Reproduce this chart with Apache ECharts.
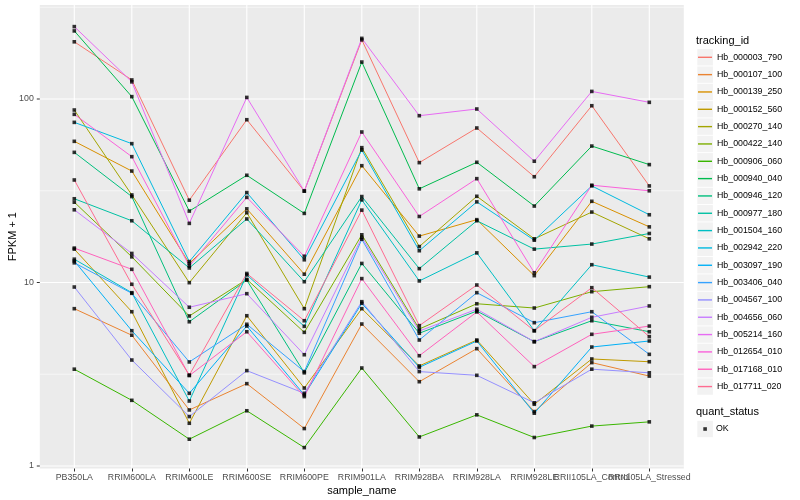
<!DOCTYPE html>
<html><head><meta charset="utf-8">
<script src="https://cdn.jsdelivr.net/npm/echarts@6/dist/echarts.min.js"></script>
<style>html,body{margin:0;padding:0;background:#fff}#c{width:800px;height:500px}</style>
</head><body><div id="c"></div>
<script>
const categories = ['PB350LA','RRIM600LA','RRIM600LE','RRIM600SE','RRIM600PE','RRIM901LA','RRIM928BA','RRIM928LA','RRIM928LE','RRII105LA_Control','RRII105LA_Stressed'];
const trackingIds = ['Hb_000003_790','Hb_000107_100','Hb_000139_250','Hb_000152_560','Hb_000270_140','Hb_000422_140','Hb_000906_060','Hb_000940_040','Hb_000946_120','Hb_000977_180','Hb_001504_160','Hb_002942_220','Hb_003097_190','Hb_003406_040','Hb_004567_100','Hb_004656_060','Hb_005214_160','Hb_012654_010','Hb_017168_010','Hb_017711_020'];
const colors = ['#F8766D','#EA8331','#D89000','#C09B00','#A3A500','#7CAE00','#39B600','#00BB4E','#00BF7D','#00C1A3','#00BFC4','#00BAE0','#00B0F6','#35A2FF','#9590FF','#C77CFF','#E76BF3','#FA62DB','#FF62BC','#FF6C91'];
const yTickValues = [1, 10, 100];
const yMinorValues = [3.1623, 31.623, 316.23];

const Hb_000003_790 = [205, 127, 28.1, 77.1, 31.5, 210, 45.0, 69.5, 37.7, 91.9, 33.6];
const Hb_000107_100 = [7.20, 5.16, 2.02, 2.81, 1.60, 5.94, 2.88, 4.36, 1.98, 3.66, 3.09];
const Hb_000139_250 = [58.8, 40.5, 12.7, 25.2, 11.1, 43.3, 17.9, 22.0, 10.9, 27.7, 20.1];
const Hb_000152_560 = [15.2, 6.93, 1.71, 6.59, 2.66, 7.20, 3.51, 4.86, 2.17, 3.83, 3.70];
const Hb_000270_140 = [87.1, 30.0, 9.98, 24.0, 7.20, 54.3, 15.7, 29.5, 17.3, 24.2, 17.3];
const Hb_000422_140 = [27.4, 13.8, 6.57, 10.4, 5.35, 18.2, 5.58, 7.66, 7.26, 8.91, 9.49];
const Hb_000906_060 = [3.37, 2.28, 1.40, 2.00, 1.26, 3.42, 1.44, 1.90, 1.43, 1.65, 1.74];
const Hb_000940_040 = [235, 103, 24.5, 38.4, 23.8, 159, 32.4, 45.2, 26.1, 55.4, 43.9];
const Hb_000946_120 = [51.2, 29.4, 6.11, 10.3, 3.22, 12.7, 5.29, 6.99, 4.76, 6.19, 5.39];
const Hb_000977_180 = [28.6, 21.7, 12.0, 22.2, 10.1, 29.4, 11.9, 21.7, 15.2, 16.2, 18.5];
const Hb_001504_160 = [13.4, 8.80, 2.26, 11.0, 5.77, 28.2, 10.2, 14.5, 5.46, 12.5, 10.7];
const Hb_002942_220 = [74.6, 57.1, 13.0, 30.9, 13.3, 52.7, 14.9, 27.5, 17.0, 33.6, 23.4];
const Hb_003097_190 = [13.1, 5.46, 2.49, 5.79, 2.44, 7.70, 3.45, 4.80, 1.94, 4.45, 4.80];
const Hb_003406_040 = [12.8, 8.73, 3.69, 5.92, 3.27, 17.2, 4.86, 8.80, 6.04, 6.93, 4.06];
const Hb_004567_100 = [9.45, 3.78, 1.86, 3.31, 2.49, 7.86, 3.27, 3.12, 2.21, 3.37, 3.22];
const Hb_004656_060 = [24.9, 14.4, 7.33, 8.69, 4.04, 17.6, 5.44, 7.15, 4.76, 6.46, 7.45];
const Hb_005214_160 = [248, 124, 21.0, 102, 31.5, 214, 81.1, 88.2, 45.8, 110, 95.9];
const Hb_012654_010 = [82.5, 48.5, 12.3, 29.1, 13.9, 66.1, 22.9, 36.8, 11.3, 33.9, 31.6];
const Hb_017168_010 = [15.4, 11.8, 3.11, 5.39, 2.39, 10.5, 3.99, 6.91, 3.48, 5.22, 5.79];
const Hb_017711_020 = [36.2, 9.78, 3.13, 11.2, 6.19, 24.8, 5.82, 9.69, 5.46, 9.37, 5.07];

const seriesValues = [Hb_000003_790, Hb_000107_100, Hb_000139_250, Hb_000152_560, Hb_000270_140, Hb_000422_140, Hb_000906_060, Hb_000940_040, Hb_000946_120, Hb_000977_180, Hb_001504_160, Hb_002942_220, Hb_003097_190, Hb_003406_040, Hb_004567_100, Hb_004656_060, Hb_005214_160, Hb_012654_010, Hb_017168_010, Hb_017711_020];

const FONT = '"Liberation Sans", Arial, Helvetica, sans-serif';
const axisMinValue = 1, axisMaxValue = 316.23;
const panelMinValue = 0.969, panelMaxValue = 325;

const lineSeries = trackingIds.map((id, i) => ({
  name: id, type: 'line', data: seriesValues[i],
  symbol: 'none', showSymbol: false, clip: false,
  lineStyle: { color: colors[i], width: 1 }, itemStyle: { color: colors[i] },
  emphasis: { disabled: true }, z: 2
}));
const okPoints = [];
seriesValues.forEach(arr => arr.forEach((v, j) => okPoints.push([categories[j], v])));

const option = {
  animation: false,
  backgroundColor: '#ffffff',
  grid: { left: 45.55, right: 121.95, top: 7.25, bottom: 34, containLabel: false, outerBoundsMode: 'none' },
  xAxis: {
    type: 'category', data: categories, boundaryGap: true, offset: 2.5,
    axisLine: { show: false },
    axisTick: { show: true, alignWithLabel: true, length: 3, lineStyle: { color: '#333333', width: 1 } },
    axisLabel: { interval: 0, margin: 4.5, color: '#4D4D4D', fontSize: 8.8, fontFamily: FONT },
    splitLine: { show: false },
    name: 'sample_name', nameLocation: 'middle', nameGap: 17, nameMoveOverlap: false,
    nameTextStyle: { color: '#000', fontSize: 11, fontFamily: FONT }
  },
  yAxis: {
    type: 'log', logBase: 10, min: axisMinValue, max: axisMaxValue, offset: 5.75,
    axisLine: { show: false },
    axisTick: { show: false },
    axisLabel: { margin: 6, color: '#4D4D4D', fontSize: 8.8, fontFamily: FONT,
      formatter: v => yTickValues.some(t => Math.abs(t - v) < 1e-6 * t) ? String(Math.round(v)) : '' },
    splitLine: { show: false }, minorSplitLine: { show: false },
    name: 'FPKM + 1', nameLocation: 'middle', nameGap: 21, nameMoveOverlap: false,
    nameTextStyle: { color: '#000', fontSize: 11, fontFamily: FONT }
  },
  legend: [
    { data: trackingIds.map(n => ({ name: n, icon: 'rect' })), orient: 'vertical', left: 698, top: 51.3, padding: 0,
      itemWidth: 14, itemHeight: 1.4, itemGap: 5.33, selectedMode: false,
      textStyle: { color: '#000', fontSize: 8.8, fontFamily: FONT, lineHeight: 12 } },
    { data: [{ name: 'OK', icon: 'rect' }], orient: 'vertical', left: 703.3, top: 423, padding: 0,
      itemWidth: 3.6, itemHeight: 3.6, selectedMode: false,
      textStyle: { color: '#000', fontSize: 8.8, fontFamily: FONT, lineHeight: 12, padding: [0, 0, 0, 4] } }
  ],
  series: lineSeries.concat([{
    name: 'OK', type: 'scatter', data: okPoints, symbol: 'rect', symbolSize: 3.6, clip: false,
    itemStyle: { color: '#000' }, emphasis: { disabled: true }, z: 3
  }])
};

const chart = echarts.init(document.getElementById('c'), null, { renderer: 'canvas' });
chart.setOption(option);

const px = v => chart.convertToPixel({ xAxisIndex: 0 }, v);
const py = v => chart.convertToPixel({ yAxisIndex: 0 }, v);
const xFirst = px(categories[0]), xSecond = px(categories[1]), xLast = px(categories[categories.length - 1]);
const band = xSecond - xFirst;
const pLeft = xFirst - 0.6 * band, pRight = xLast + 0.6 * band;
const pTop = py(panelMaxValue), pBottom = py(panelMinValue);

const els = [{ type: 'rect', silent: true, shape: { x: pLeft, y: pTop, width: pRight - pLeft, height: pBottom - pTop }, style: { fill: '#EBEBEB' } }];
yMinorValues.forEach(v => { const y = py(v); if (y >= pTop && y <= pBottom) els.push({ type: 'line', silent: true, shape: { x1: pLeft, y1: y, x2: pRight, y2: y }, style: { stroke: '#ffffff', lineWidth: 0.55 } }); });
yTickValues.forEach(v => {
  const y = py(v);
  els.push({ type: 'line', silent: true, shape: { x1: pLeft, y1: y, x2: pRight, y2: y }, style: { stroke: '#ffffff', lineWidth: 1.1 } });
  els.push({ type: 'line', silent: true, shape: { x1: pLeft - 3, y1: y, x2: pLeft, y2: y }, style: { stroke: '#333333', lineWidth: 1 } });
});
categories.forEach(c => { const x = px(c); els.push({ type: 'line', silent: true, shape: { x1: x, y1: pTop, x2: x, y2: pBottom }, style: { stroke: '#ffffff', lineWidth: 1.1 } }); });
for (let i = 0; i < trackingIds.length; i++) {
  const cy = 57.3 + i * 17.33;
  els.push({ type: 'rect', silent: true, shape: { x: 697.3, y: cy - 8.2, width: 15.6, height: 16.4 }, style: { fill: '#F2F2F2' } });
}
els.push({ type: 'rect', silent: true, shape: { x: 697.3, y: 429 - 8.2, width: 15.6, height: 16.4 }, style: { fill: '#F2F2F2' } });
els.push({ type: 'text', silent: true, style: { x: 696, y: 40.7, text: 'tracking_id', fill: '#000', font: '11px ' + FONT, verticalAlign: 'middle' } });
els.push({ type: 'text', silent: true, style: { x: 696, y: 412.3, text: 'quant_status', fill: '#000', font: '11px ' + FONT, verticalAlign: 'middle' } });

chart.setOption({ graphic: { elements: els } });
</script></body></html>
